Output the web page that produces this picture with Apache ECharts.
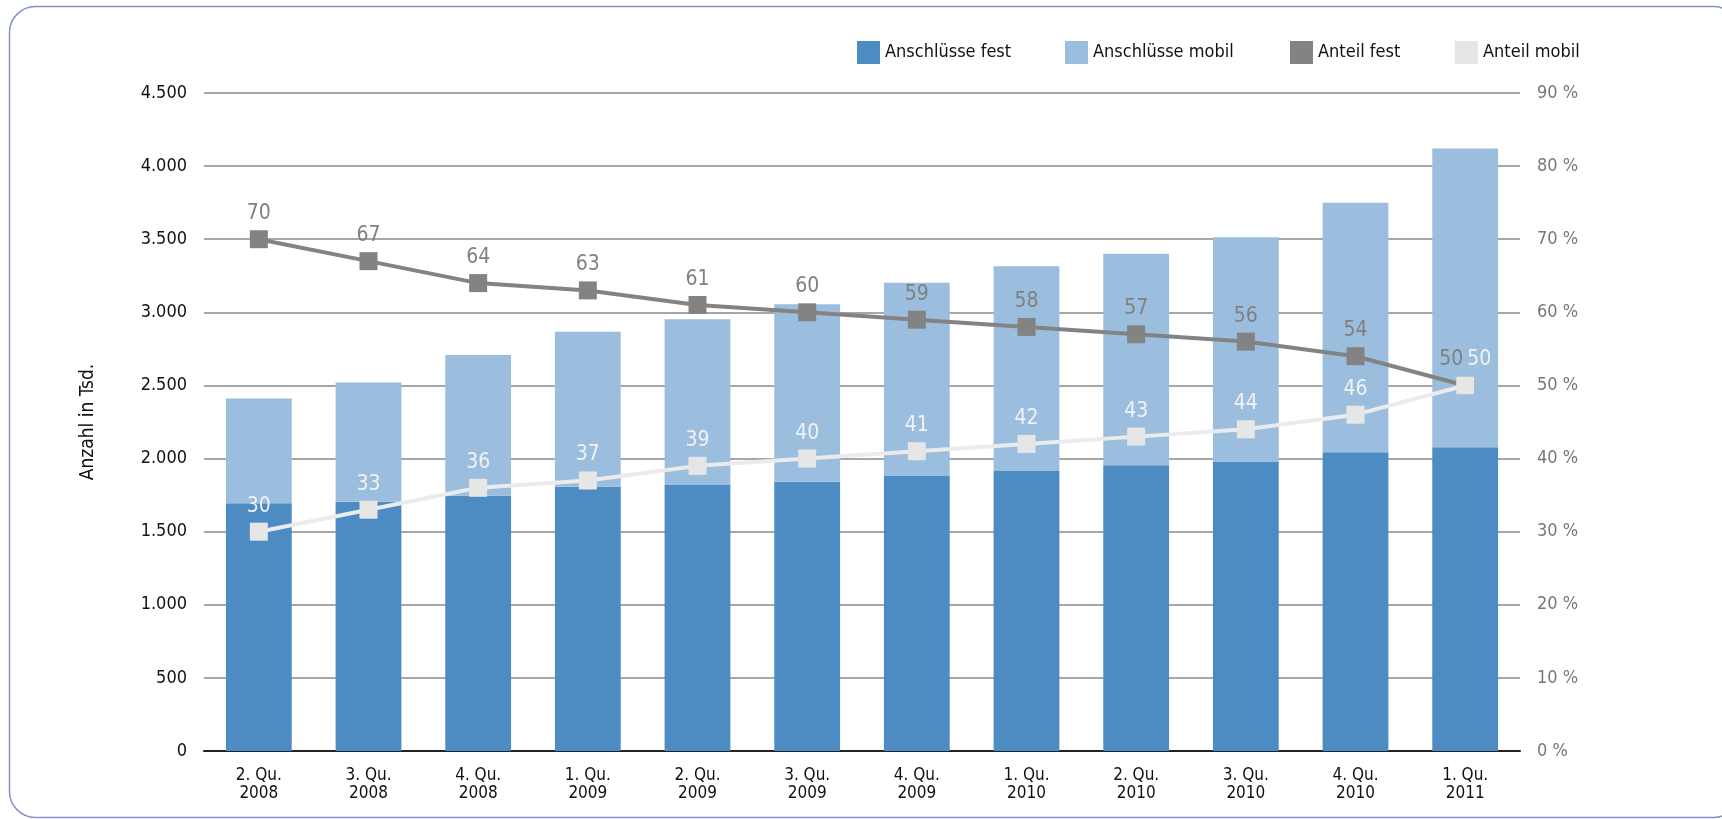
<!DOCTYPE html>
<html>
<head>
<meta charset="utf-8">
<style>
  html, body { margin: 0; padding: 0; background: #ffffff; }
  #chart { width: 1722px; height: 819px; }
</style>
<script src="https://cdn.jsdelivr.net/npm/echarts@6/dist/echarts.min.js"></script>
</head>
<body>
<div id="chart"></div>
<script>
// Quarterly broadband connections (in thousands) and shares (%)
const quarters = ['2. Qu.\n2008', '3. Qu.\n2008', '4. Qu.\n2008', '1. Qu.\n2009', '2. Qu.\n2009', '3. Qu.\n2009',
                  '4. Qu.\n2009', '1. Qu.\n2010', '2. Qu.\n2010', '3. Qu.\n2010', '4. Qu.\n2010', '1. Qu.\n2011'];
const anschluesseFest  = [1695, 1705, 1745, 1808, 1820, 1842, 1880, 1915, 1955, 1980, 2043, 2078];
const anschluesseMobil = [715, 815, 963, 1060, 1132, 1213, 1323, 1400, 1446, 1533, 1707, 2042];
const anteilFest  = [70, 67, 64, 63, 61, 60, 59, 58, 57, 56, 54, 50];
const anteilMobil = [30, 33, 36, 37, 39, 40, 41, 42, 43, 44, 46, 50];
const leftTicks  = { min: 0, max: 4500, interval: 500 };
const rightTicks = { min: 0, max: 90, interval: 10 };
const seriesNames = ['Anschlüsse fest', 'Anschlüsse mobil', 'Anteil fest', 'Anteil mobil'];

const FONT = '"Liberation Sans Narrow", "DejaVu Sans Condensed", "Roboto Condensed", sans-serif';
const C_FEST = '#4d8bc3';
const C_MOBIL = '#9bbedf';
const C_LFEST = '#838383';
const C_LMOBIL = '#ebebeb';

function fmtThousands(v) {
  return String(v).replace(/\B(?=(\d{3})+(?!\d))/g, '.');
}

// Last point: both shares coincide, so push the two labels apart
const lastIdx = quarters.length - 1;
const festData = anteilFest.map((v, i) => i === lastIdx
  ? { value: v, label: { offset: [-14, 0] } } : v);
const mobilData = anteilMobil.map((v, i) => i === lastIdx
  ? { value: v, label: { offset: [14, 0] } } : v);

// One legend block per entry, each pinned at its own x
const legendLeft = [857, 1065, 1290, 1455];
const legends = seriesNames.map((name, i) => ({
  left: legendLeft[i],
  top: 41,
  padding: 0,
  itemWidth: 23,
  itemHeight: 23,
  icon: 'rect',
  textStyle: { fontFamily: FONT, fontSize: 18, color: '#111111' },
  data: [name]
}));

const chart = echarts.init(document.getElementById('chart'), null, { renderer: 'canvas' });
chart.setOption({
  backgroundColor: '#ffffff',
  animation: false,
  textStyle: { fontFamily: FONT },
  graphic: [{
    type: 'rect',
    shape: { x: 9.5, y: 6.5, width: 1730, height: 811, r: 26 },
    style: { fill: 'none', stroke: '#8592cc', lineWidth: 1.5 },
    silent: true,
    z: -10
  }],
  legend: legends,
  grid: { left: 204, right: 202, top: 93, bottom: 68, containLabel: false },
  xAxis: {
    type: 'category',
    data: quarters,
    axisLine: { lineStyle: { color: '#222222', width: 2 } },
    axisTick: { show: false },
    axisLabel: { color: '#111111', fontFamily: FONT, fontSize: 17, lineHeight: 18, margin: 16 }
  },
  yAxis: [{
    type: 'value',
    min: leftTicks.min, max: leftTicks.max, interval: leftTicks.interval,
    name: 'Anzahl in Tsd.',
    nameLocation: 'middle',
    nameGap: 106,
    nameRotate: 90,
    nameTextStyle: { color: '#111111', fontFamily: FONT, fontSize: 19 },
    axisLine: { show: false },
    axisTick: { show: false },
    axisLabel: { color: '#111111', fontFamily: FONT, fontSize: 18, margin: 17, formatter: fmtThousands },
    splitLine: { lineStyle: { color: '#8a8a8a', width: 1.5 } }
  }, {
    type: 'value',
    position: 'right',
    min: rightTicks.min, max: rightTicks.max, interval: rightTicks.interval,
    axisLine: { show: false },
    axisTick: { show: false },
    splitLine: { show: false },
    axisLabel: { color: '#777777', fontFamily: FONT, fontSize: 18, margin: 17, formatter: '{value} %' }
  }],
  series: [{
    name: seriesNames[0],
    type: 'bar',
    stack: 'anschluesse',
    data: anschluesseFest,
    barCategoryGap: '40%',
    itemStyle: { color: C_FEST },
    z: 2
  }, {
    name: seriesNames[1],
    type: 'bar',
    stack: 'anschluesse',
    data: anschluesseMobil,
    itemStyle: { color: C_MOBIL },
    z: 2
  }, {
    name: seriesNames[2],
    type: 'line',
    yAxisIndex: 1,
    data: festData,
    symbol: 'rect',
    symbolSize: 18,
    lineStyle: { color: C_LFEST, width: 4 },
    itemStyle: { color: C_LFEST },
    label: { show: true, position: 'top', distance: 6, color: '#808080', fontFamily: FONT, fontSize: 21 },
    z: 5
  }, {
    name: seriesNames[3],
    type: 'line',
    yAxisIndex: 1,
    data: mobilData,
    symbol: 'rect',
    symbolSize: 18,
    lineStyle: { color: C_LMOBIL, width: 4 },
    itemStyle: { color: '#e6e6e6' },
    label: { show: true, position: 'top', distance: 6, color: '#f2f2f2', fontFamily: FONT, fontSize: 21 },
    z: 6
  }]
});
</script>
</body>
</html>
